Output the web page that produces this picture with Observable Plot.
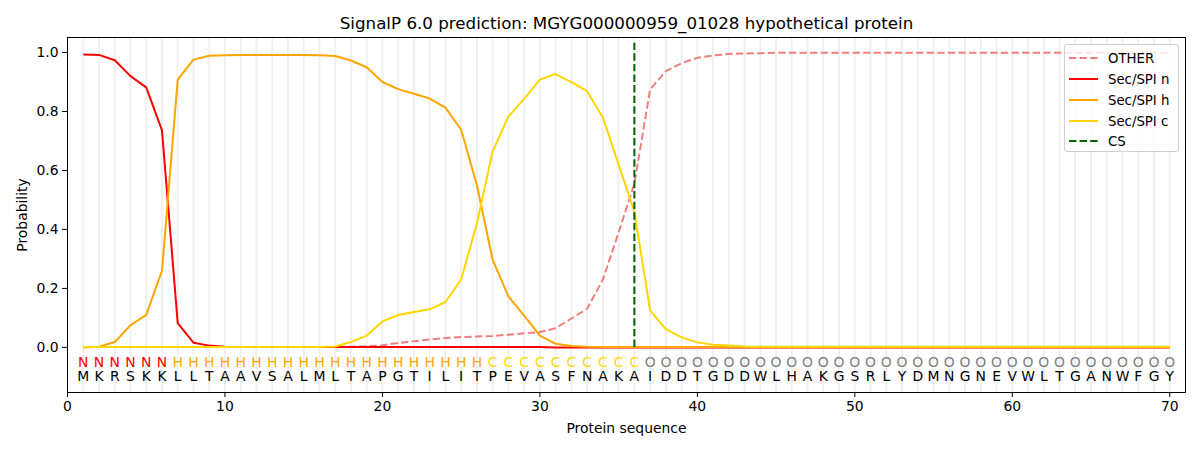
<!DOCTYPE html>
<html>
<head>
<meta charset="utf-8">
<script src="https://cdn.jsdelivr.net/npm/d3@7"></script>
<script src="https://cdn.jsdelivr.net/npm/@observablehq/plot@0.6"></script>
<style>
  body { margin: 0; background: white; font-family: "DejaVu Sans", sans-serif; }
  #wrap { position: relative; width: 1200px; height: 450px; }
  #legend {
    position: absolute; left: 1064px; top: 44px; width: 115px; height: 108px;
    border: 1px solid #d0d0d0; border-radius: 3px; background: rgba(255,255,255,0.8);
    font-size: 13.3px; color: #000; box-sizing: border-box;
  }
  .row { position: absolute; left: 0; height: 20px; display: flex; align-items: center; white-space: nowrap; }
  .row svg { margin-left: 4px; margin-right: 10px; flex: none; }
</style>
</head>
<body>
<div id="wrap"></div>
<script>
const title = "SignalP 6.0 prediction: MGYG000000959_01028 hypothetical protein";
const sequence = "MKRSKKLLTAAVSALMLTAPGTILITPEVASFNAKAIDDTGDDWLHAKGSRLYDMNGNEVWLTGANWFGY".split("");
const states = "NNNNNNHHHHHHHHHHHHHHHHHHHHCCCCCCCCCCOOOOOOOOOOOOOOOOOOOOOOOOOOOOOOOOOO".split("");
const stateColors = {N: "red", H: "orange", C: "gold", O: "gray"};
const csPosition = 36;

const other = [0.001,0.001,0.001,0.001,0.001,0.001,0.001,0.001,0.001,0.001,
  0.001,0.001,0.001,0.001,0.001,0.001,0.001,0.002,0.004,0.007,
  0.015,0.021,0.027,0.032,0.035,0.037,0.039,0.043,0.048,0.052,
  0.065,0.098,0.131,0.23,0.39,0.555,0.875,0.937,0.964,0.982,
  0.99,0.995,0.997,0.998,0.999,0.999,0.999,0.999,0.999,0.999,
  0.999,0.999,0.999,0.999,0.999,0.999,0.999,0.999,0.999,0.999,
  0.999,0.999,0.999,0.999,0.999,0.999,0.999,0.999,0.999,0.999];
const secN = [0.993,0.992,0.974,0.92,0.882,0.736,0.082,0.016,0.006,0.002,
  0.001,0.001,0.001,0.001,0.001,0.001,0.001,0.001,0.001,0.001,
  0.001,0.001,0.001,0.001,0.001,0.001,0.001,0.001,0.001,0.001,
  0,0,0,0,0,0,0,0,0,0,
  0,0,0,0,0,0,0,0,0,0,
  0,0,0,0,0,0,0,0,0,0,
  0,0,0,0,0,0,0,0,0,0];
const secH = [0.0,0.002,0.018,0.075,0.11,0.26,0.908,0.976,0.989,0.991,
  0.992,0.992,0.992,0.992,0.992,0.991,0.988,0.973,0.95,0.90,
  0.876,0.86,0.844,0.813,0.738,0.55,0.297,0.173,0.108,0.04,
  0.012,0.005,0.002,0.001,0.001,0.001,0.001,0.001,0.001,0.001,
  0.001,0.001,0.001,0.001,0.001,0.001,0.001,0.001,0.001,0.001,
  0.001,0.001,0.001,0.001,0.001,0.001,0.001,0.001,0.001,0.001,
  0.001,0.001,0.001,0.001,0.001,0.001,0.001,0.001,0.001,0.001];
const secC = [0.001,0.001,0.001,0.001,0.001,0.001,0.001,0.001,0.001,0.001,
  0.001,0.001,0.001,0.001,0.001,0.001,0.003,0.018,0.04,0.088,
  0.11,0.12,0.129,0.154,0.23,0.42,0.665,0.783,0.843,0.908,
  0.927,0.9,0.869,0.78,0.62,0.46,0.125,0.062,0.034,0.017,
  0.009,0.006,0.003,0.002,0.002,0.002,0.002,0.002,0.002,0.002,
  0.002,0.002,0.002,0.002,0.002,0.002,0.002,0.002,0.002,0.002,
  0.002,0.002,0.002,0.002,0.002,0.002,0.002,0.002,0.002,0.002];

const series = [
  {name: "OTHER", values: other, color: "lightcoral", dash: "7.4,3.2"},
  {name: "Sec/SPI n", values: secN, color: "red", dash: null},
  {name: "Sec/SPI h", values: secH, color: "orange", dash: null},
  {name: "Sec/SPI c", values: secC, color: "gold", dash: null}
];

const positions = sequence.map((_, i) => i + 1);
const residues = sequence.map((aa, i) => ({pos: i + 1, aa, state: states[i]}));

const lineMarks = series.map(s =>
  Plot.line(s.values.map((v, i) => ({pos: i + 1, p: v})), {
    x: "pos", y: "p", stroke: s.color, strokeWidth: 2, strokeDasharray: s.dash,
    strokeLinejoin: "round", strokeLinecap: "butt"
  })
);

const chart = Plot.plot({
  width: 1200,
  height: 450,
  marginLeft: 67,
  marginRight: 15,
  marginTop: 37,
  marginBottom: 58,
  style: {fontFamily: "DejaVu Sans, sans-serif", fontSize: "13.9px", color: "black", background: "white"},
  x: {domain: [0, 71]},
  y: {domain: [-0.153, 1.051]},
  marks: [
    Plot.ruleX(positions, {x: d => d, stroke: "#d8d8d8", strokeOpacity: 0.4, strokeWidth: 1.8}),
    ...lineMarks,
    Plot.ruleX([csPosition], {x: d => d, y1: 0, y2: 1.037, stroke: "darkgreen", strokeWidth: 2, strokeDasharray: "7.4,3.2"}),
    Plot.text(residues, {x: "pos", y: -0.05, text: "state", fill: d => stateColors[d.state], fontSize: 13.9}),
    Plot.text(residues, {x: "pos", y: -0.10, text: "aa", fill: "black", fontSize: 13.9}),
    Plot.axisY({ticks: [0, 0.2, 0.4, 0.6, 0.8, 1.0], tickFormat: d3.format(".1f"), tickSize: 5, tickPadding: 4,
      label: "Probability", labelAnchor: "center", labelArrow: "none", labelOffset: 50, fontSize: 13.9}),
    Plot.axisX({ticks: [0, 10, 20, 30, 40, 50, 60, 70], tickFormat: d3.format("d"), tickSize: 5, tickPadding: 4,
      label: "Protein sequence", labelAnchor: "center", labelArrow: "none", labelOffset: 40, fontSize: 13.9}),
    Plot.frame({stroke: "black", strokeWidth: 1}),
    Plot.text([title], {frameAnchor: "top", lineAnchor: "middle", dy: -14, text: d => d, fontSize: 16.7, fill: "black"})
  ]
});

const wrap = document.getElementById("wrap");
wrap.appendChild(chart);

// legend
const legend = document.createElement("div");
legend.id = "legend";
const rowsTop = [3, 24, 45, 66, 86];
const legendItems = [
  ...series.map(s => ({name: s.name, color: s.color, dash: s.dash})),
  {name: "CS", color: "darkgreen", dash: "7.4,3.2"}
];
legendItems.forEach((item, i) => {
  const row = document.createElement("div");
  row.className = "row";
  row.style.top = rowsTop[i] + "px";
  row.innerHTML = `<svg width="29" height="6"><line x1="0" x2="29" y1="3" y2="3" stroke="${item.color}" stroke-width="2" ${item.dash ? `stroke-dasharray="${item.dash}"` : ""}/></svg><span>${item.name}</span>`;
  legend.appendChild(row);
});
wrap.appendChild(legend);
</script>
</body>
</html>
